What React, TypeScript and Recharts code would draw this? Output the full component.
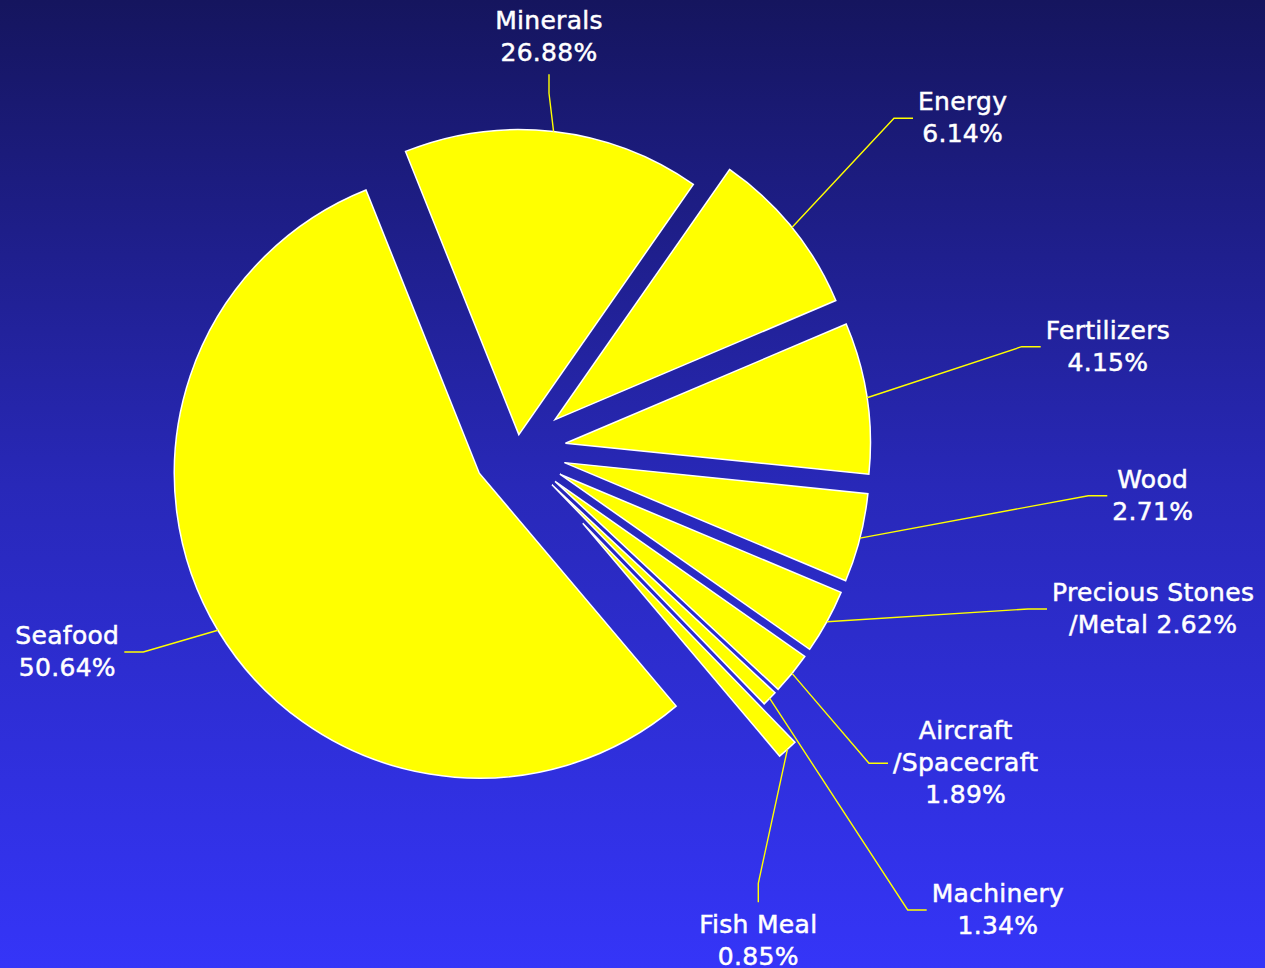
import React from 'react';
import { PieChart, Pie, Sector } from 'recharts';

// ---- data ----
const categories = [
  'Seafood',
  'Minerals',
  'Energy',
  'Fertilizers',
  'Wood',
  'Precious Stones/Metal',
  'Aircraft/Spacecraft',
  'Machinery',
  'Fish Meal',
];
// share of the circle each slice occupies in the picture
const sliceShares = [55.11, 15.75, 8.92, 8.01, 4.71, 3.4, 2.21, 0.81, 1.08];
// percentages printed in the labels
const labelPercents = [50.64, 26.88, 6.14, 4.15, 2.71, 2.62, 1.89, 1.34, 0.85];

const data = categories.map((name, i) => ({
  name,
  value: sliceShares[i],
  pct: labelPercents[i],
}));

// ---- layout / style ----
const W = 1265;
const H = 968;
const CX = 517;
const CY = 450.5;
const R = 305;
const START = 310.2;
const explode = [44, 16, 49, 49, 49, 49, 49, 49, 98];
type Dir = 'left' | 'right' | 'up' | 'down';
const labelLayout: { dx: number; dy: number; dir: Dir }[] = [
  { dx: -373.7, dy: 201.5, dir: 'left' },
  { dx: 32, dy: -357.2, dir: 'up' },
  { dx: 377, dy: -332.2, dir: 'right' },
  { dx: 504.7, dy: -103.8, dir: 'right' },
  { dx: 571.3, dy: 45.2, dir: 'right' },
  { dx: 511, dy: 158.5, dir: 'right' },
  { dx: 352, dy: 312.8, dir: 'right' },
  { dx: 390.7, dy: 459.5, dir: 'right' },
  { dx: 241.3, dy: 432.8, dir: 'down' },
];
const pctInline = [false, false, false, false, false, true, false, false, false];

const FONT_SIZE = 25;
const FONT_FAMILY = '"DejaVu Sans", Verdana, sans-serif';
const LETTER_SPACING = 0.3;
const LINE_H = 32;
const SEG = 19;
const YELLOW = '#FFFF00';
const RAD = Math.PI / 180;

let ctx: CanvasRenderingContext2D | null = null;
function measure(s: string): number {
  try {
    if (!ctx) {
      const c = document.createElement('canvas');
      ctx = c.getContext('2d');
    }
    if (ctx) {
      ctx.font = `${FONT_SIZE}px ${FONT_FAMILY}`;
      return ctx.measureText(s).width + s.length * LETTER_SPACING;
    }
  } catch (e) {
    /* ignore */
  }
  return s.length * FONT_SIZE * 0.6;
}

function labelLines(index: number, name: string, pct: number): string[] {
  const parts = name.split('/');
  const lines = parts.map((p, i) => (i === 0 ? p : '/' + p));
  const pctText = `${pct.toFixed(2)}%`;
  if (pctInline[index]) {
    lines[lines.length - 1] = lines[lines.length - 1] + ' ' + pctText;
  } else {
    lines.push(pctText);
  }
  return lines;
}

function renderSlice(props: any) {
  const { cx, cy, midAngle, startAngle, endAngle, outerRadius, index, payload } = props;
  const ux = Math.cos(-midAngle * RAD);
  const uy = Math.sin(-midAngle * RAD);
  const off = explode[index];
  const ox = cx + off * ux;
  const oy = cy + off * uy;
  const sx = ox + outerRadius * ux;
  const sy = oy + outerRadius * uy;
  const L = labelLayout[index];
  const ex = cx + L.dx;
  const ey = cy + L.dy;
  let tx = ex;
  let ty = ey;
  if (L.dir === 'right') tx = ex + SEG;
  if (L.dir === 'left') tx = ex - SEG;
  if (L.dir === 'up') ty = ey - SEG;
  if (L.dir === 'down') ty = ey + SEG;

  const name = payload?.name ?? categories[index];
  const pct = payload?.pct ?? labelPercents[index];
  const lines = labelLines(index, name, pct);
  const maxW = Math.max(...lines.map(measure));
  const n = lines.length;
  let centerX = tx;
  let b0 = ey + 8 - ((n - 1) / 2) * LINE_H;
  if (L.dir === 'right') centerX = tx + 5 + maxW / 2;
  if (L.dir === 'left') centerX = tx - 5 - maxW / 2;
  if (L.dir === 'up') b0 = ty - 13 - (n - 1) * LINE_H;
  if (L.dir === 'down') b0 = ty + 30.7;

  return (
    <g key={`slice-${index}`}>
      <Sector
        cx={ox}
        cy={oy}
        innerRadius={0}
        outerRadius={outerRadius}
        startAngle={startAngle}
        endAngle={endAngle}
        fill={YELLOW}
        stroke="#FFFFFF"
        strokeWidth={1.5}
      />
      <polyline
        points={`${sx},${sy} ${ex},${ey} ${tx},${ty}`}
        fill="none"
        stroke={YELLOW}
        strokeWidth={1.4}
      />
      <text
        textAnchor="middle"
        fill="#FFFFFF"
        stroke="#FFFFFF"
        strokeWidth={0.5}
        fontSize={FONT_SIZE}
        fontFamily={FONT_FAMILY}
        letterSpacing={LETTER_SPACING}
      >
        {lines.map((l, i) => (
          <tspan key={i} x={centerX} y={b0 + i * LINE_H}>
            {l}
          </tspan>
        ))}
      </text>
    </g>
  );
}

export default function App() {
  return (
    <div
      style={{
        position: 'absolute',
        left: 0,
        top: 0,
        width: W,
        height: H,
        background: 'linear-gradient(to bottom, #15155E 0%, #2828B8 50%, #3535F8 100%)',
        overflow: 'hidden',
      }}
    >
      <PieChart width={W} height={H} margin={{ top: 0, right: 0, bottom: 0, left: 0 }}>
        <Pie
          data={data}
          dataKey="value"
          nameKey="name"
          cx={CX}
          cy={CY}
          innerRadius={0}
          outerRadius={R}
          startAngle={START}
          endAngle={START - 360}
          fill="none"
          stroke="none"
          isAnimationActive={false}
          labelLine={false}
          label={renderSlice}
        />
      </PieChart>
    </div>
  );
}
